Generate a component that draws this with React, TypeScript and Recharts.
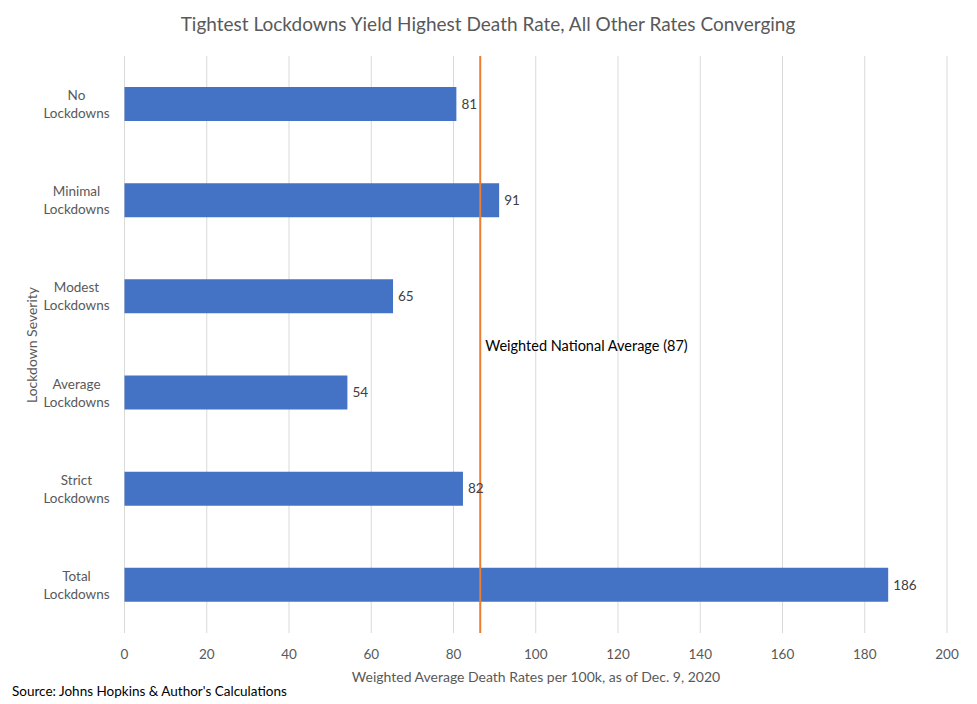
import React from "react";
import { BarChart, Bar, XAxis, YAxis, CartesianGrid, ReferenceLine, LabelList } from "recharts";

const categories = ["No\nLockdowns", "Minimal\nLockdowns", "Modest\nLockdowns", "Average\nLockdowns", "Strict\nLockdowns", "Total\nLockdowns"];
const values = [80.7, 91.1, 65.3, 54.2, 82.3, 185.7];
const xTicks = [0, 20, 40, 60, 80, 100, 120, 140, 160, 180, 200];
const nationalAverage = 86.5;
const nationalLabel = "Weighted National Average (87)";
const title = "Tightest Lockdowns Yield Highest Death Rate, All Other Rates Converging";
const xLabel = "Weighted Average Death Rates per 100k, as of Dec. 9, 2020";
const yLabel = "Lockdown Severity";
const source = "Source: Johns Hopkins & Author's Calculations";

const data = categories.map((c, i) => ({ name: c, value: values[i] }));

const FONT = "Lato, 'Open Sans', sans-serif";
const GREY = "#595959";

const YTick = (props: any) => {
  const { x, y, payload } = props;
  const lines = String(payload.value).split("\n");
  return (
    <text x={x - 40} y={y} textAnchor="middle" fill={GREY} fontSize={13.5} fontFamily={FONT}>
      {lines.map((l: string, i: number) => (
        <tspan key={i} x={x - 40} dy={i === 0 ? -4 : 18}>{l}</tspan>
      ))}
    </text>
  );
};

const RefLabel = (props: any) => {
  const vb = props.viewBox || {};
  return (
    <text x={vb.x + 5} y={vb.y + vb.height * 0.505} fill="#000" fontSize={14.5} fontFamily={FONT} dominantBaseline="middle">
      {nationalLabel}
    </text>
  );
};

export default function App() {
  return (
    <div style={{ position: "absolute", left: 0, top: 0, width: 977, height: 704, background: "#fff", fontFamily: FONT }}>
      <svg style={{ position: "absolute", left: 0, top: 0, pointerEvents: "none" }} width={977} height={704}>
        <text x={488} y={31} textAnchor="middle" fill={GREY} fontSize={19} fontFamily={FONT}>{title}</text>
        <text x={536} y={682} textAnchor="middle" fill={GREY} fontSize={14} fontFamily={FONT}>{xLabel}</text>
        <text transform="translate(37,345) rotate(-90)" textAnchor="middle" fill={GREY} fontSize={14} fontFamily={FONT}>{yLabel}</text>
        <text x={12} y={696} fill="#000" fontSize={13.5} fontFamily={FONT}>{source}</text>
      </svg>
      <BarChart
        width={977}
        height={704}
        data={data}
        layout="vertical"
        margin={{ top: 56, right: 30, left: 0, bottom: 41 }}
        barSize={34}
        style={{ position: "absolute", left: 0, top: 0 }}
      >
        <CartesianGrid horizontal={false} stroke="#d9d9d9" strokeWidth={1} />
        <XAxis
          type="number"
          domain={[0, 200]}
          ticks={xTicks}
          axisLine={false}
          tickLine={false}
          height={30}
          tick={{ fill: GREY, fontSize: 13.5, fontFamily: FONT }}
          tickMargin={10}
        />
        <YAxis
          type="category"
          dataKey="name"
          width={124.5}
          axisLine={false}
          tickLine={false}
          tick={<YTick />}
          interval={0}
        />
        <Bar dataKey="value" fill="#4472C4" isAnimationActive={false}>
          <LabelList
            dataKey="value"
            position="right"
            offset={5}
            formatter={(v: any) => Math.round(Number(v))}
            style={{ fill: "#404040", fontSize: 13.5, fontFamily: FONT }}
          />
        </Bar>
        <ReferenceLine x={nationalAverage} stroke="#ED7D31" strokeWidth={2} label={<RefLabel />} />
      </BarChart>
    </div>
  );
}
